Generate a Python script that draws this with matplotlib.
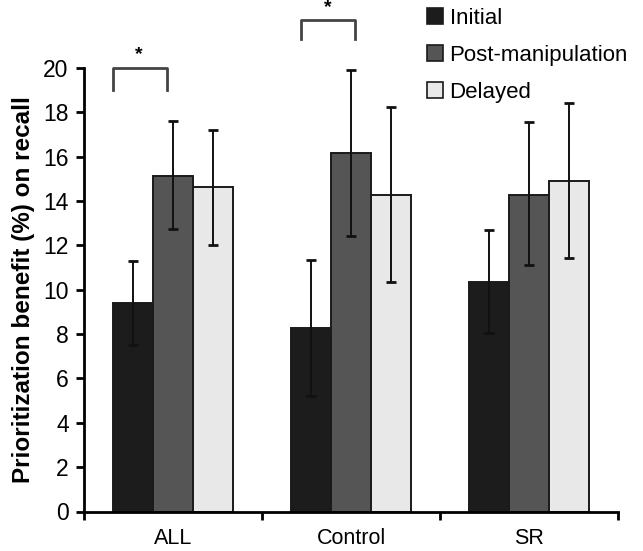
import matplotlib
matplotlib.use("Agg")
import matplotlib.pyplot as plt
import numpy as np
from matplotlib.patches import Patch

plt.rcParams['font.family'] = ['Liberation Sans', 'DejaVu Sans']

# data
groups = ["ALL", "Control", "SR"]
conditions = ["Initial", "Post-manipulation", "Delayed"]
means = {
    "Initial": [9.40, 8.27, 10.33],
    "Post-manipulation": [15.15, 16.17, 14.29],
    "Delayed": [14.62, 14.29, 14.89],
}
err_low = {
    "Initial": [7.52, 5.23, 8.05],
    "Post-manipulation": [12.74, 12.41, 11.13],
    "Delayed": [12.03, 10.33, 11.41],
}
err_high = {
    "Initial": [11.28, 11.32, 12.68],
    "Post-manipulation": [17.60, 19.92, 17.55],
    "Delayed": [17.19, 18.25, 18.44],
}
colors = {"Initial": "#1c1c1c", "Post-manipulation": "#555555", "Delayed": "#e8e8e8"}
y_ticks = list(range(0, 21, 2))

fig = plt.figure(figsize=(6.43, 5.51), dpi=100)
ax = fig.add_axes([84 / 643, 1 - 511.5 / 551, (618 - 84) / 643, (511.5 - 68) / 551])

x = np.arange(len(groups)) + 0.5
width = 0.225
offsets = [-width, 0, width]

for cond, off in zip(conditions, offsets):
    m = np.array(means[cond])
    lo = m - np.array(err_low[cond])
    hi = np.array(err_high[cond]) - m
    ax.bar(x + off, m, width, color=colors[cond], edgecolor="#1a1a1a", linewidth=1.4, zorder=2)
    ax.errorbar(x + off, m, yerr=[lo, hi], fmt="none", ecolor="#111111",
                elinewidth=1.4, capsize=3.3, capthick=2, zorder=3)

# significance brackets: x0, x1, leg bottom, top, star x, star top
brackets = [(0.165, 0.465, 19.0, 20.0, 0.309, 21.0),
            (1.217, 1.522, 21.32, 22.16, 1.372, 23.1)]
for x0, x1, yb, yt, xs, ys in brackets:
    ax.plot([x0, x0, x1, x1], [yb, yt, yt, yb], color="#444444", lw=2, clip_on=False, zorder=4)
    ax.text(xs, ys, "*", ha="center", va="top", fontsize=14, fontweight="bold", clip_on=False)

ax.set_xlim(0, 3)
ax.set_ylim(0, 20)
ax.set_yticks(y_ticks)
ax.set_yticklabels([str(t) for t in y_ticks], fontsize=16.5)
ax.set_xticks([0, 1, 2, 3])
ax.set_xticklabels([])
ax.set_xticks(x, minor=True)
ax.set_xticklabels(groups, minor=True, fontsize=15.5)
ax.tick_params(axis="x", which="minor", length=0, pad=12)
ax.tick_params(axis="x", which="major", length=6, width=2, direction="out")
ax.tick_params(axis="y", length=6, width=2, direction="out", pad=5)

for s in ["top", "right"]:
    ax.spines[s].set_visible(False)
for s in ["left", "bottom"]:
    ax.spines[s].set_linewidth(2)

ax.set_ylabel("Prioritization benefit (%) on recall", fontsize=17.5, fontweight="bold", labelpad=6)

handles = [Patch(facecolor=colors[c], edgecolor="#1a1a1a", linewidth=1.2) for c in conditions]
fig.legend(handles, conditions, loc="upper left", bbox_to_anchor=(414 / 643, 1.01),
           frameon=False, fontsize=16, handlelength=0.7, handleheight=0.7,
           handletextpad=0.3, labelspacing=0.72, borderaxespad=0.2)

fig.savefig("out.png", dpi=100)
